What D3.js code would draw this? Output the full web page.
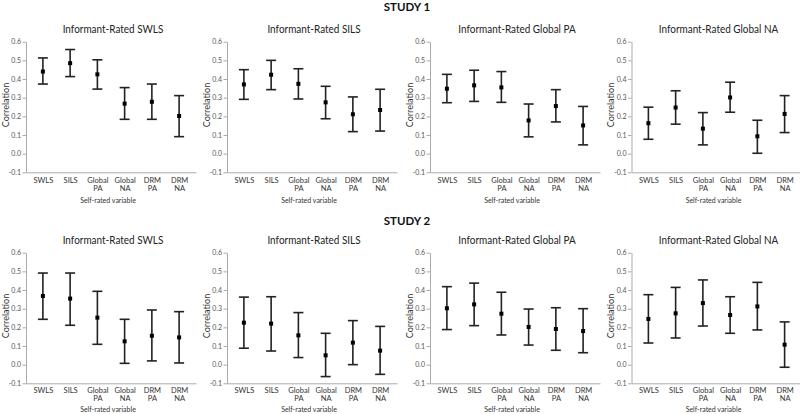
<!DOCTYPE html>
<html><head><meta charset="utf-8">
<script src="https://cdn.jsdelivr.net/npm/d3@7"></script>
<style>body{margin:0;background:#fff}svg{display:block}</style>
</head><body>
<svg id="chart" width="800" height="414"></svg>
<script>
const categories = ["SWLS","SILS","Global PA","Global NA","DRM PA","DRM NA"];
const studies = ["STUDY 1","STUDY 2"];
const panelTitles = ["Informant-Rated SWLS","Informant-Rated SILS","Informant-Rated Global PA","Informant-Rated Global NA"];
const yTicks = [-0.1,0.0,0.1,0.2,0.3,0.4,0.5,0.6];
const yLabel = "Correlation";
const xLabel = "Self-rated variable";

// Study 1: estimate, lower, upper per panel
const s1Est = [
  [0.44,0.485,0.425,0.268,0.278,0.202],
  [0.371,0.423,0.374,0.275,0.211,0.234],
  [0.348,0.366,0.355,0.178,0.255,0.151],
  [0.163,0.247,0.134,0.301,0.093,0.213]
];
const s1Lo = [
  [0.373,0.413,0.346,0.184,0.184,0.091],
  [0.291,0.343,0.293,0.187,0.118,0.121],
  [0.273,0.28,0.275,0.09,0.17,0.047],
  [0.077,0.158,0.047,0.222,0.002,0.113]
];
const s1Hi = [
  [0.513,0.558,0.503,0.354,0.373,0.311],
  [0.45,0.5,0.455,0.361,0.304,0.345],
  [0.425,0.447,0.44,0.266,0.343,0.253],
  [0.249,0.337,0.22,0.383,0.179,0.311]
];
// Study 2
const s2Est = [
  [0.368,0.354,0.252,0.125,0.155,0.146],
  [0.225,0.22,0.157,0.05,0.118,0.075],
  [0.302,0.323,0.273,0.202,0.191,0.18],
  [0.245,0.275,0.33,0.266,0.312,0.107]
];
const s2Lo = [
  [0.243,0.211,0.109,0.007,0.02,0.009],
  [0.088,0.073,0.038,-0.064,0.0,-0.052],
  [0.188,0.209,0.159,0.105,0.077,0.064],
  [0.116,0.143,0.207,0.168,0.186,-0.014]
];
const s2Hi = [
  [0.491,0.491,0.393,0.243,0.293,0.284],
  [0.362,0.364,0.279,0.168,0.236,0.205],
  [0.418,0.437,0.388,0.298,0.305,0.3],
  [0.375,0.414,0.454,0.364,0.441,0.229]
];

const studyData = [
  {est:s1Est, lo:s1Lo, hi:s1Hi},
  {est:s2Est, lo:s2Lo, hi:s2Hi}
];

const svg = d3.select("#chart");
const FONT = "Lato, 'Open Sans', sans-serif";
const colX = [26, 227, 430, 631.5];
const rowTop = [41.7, 252.7];
const xLabOff = [31, 28.5];
const tickLine2 = [19.2, 18.2];
const tickLine1 = [10.3, 9.4];
const plotH = 130.6;
const plotW = 170;

function squeeze(sel, k){
  sel.each(function(){
    const L = this.getComputedTextLength();
    d3.select(this).attr("textLength", L*k).attr("lengthAdjust","spacingAndGlyphs");
  });
}

const y0 = d3.scaleLinear().domain([-0.1,0.6]).range([plotH,0]);
const x0 = d3.scalePoint().domain(categories).range([0,plotW]).padding(0.62);

// Study headings
const studyY = [10.5, 225];
studies.forEach((s,i)=>{
  svg.append("text").attr("x",407).attr("y",studyY[i])
    .attr("text-anchor","middle").attr("font-family",FONT)
    .attr("font-weight","bold").attr("font-size",11.5).attr("fill","#111").text(s);
});

studyData.forEach((sd,r)=>{
  panelTitles.forEach((title,c)=>{
    const g = svg.append("g").attr("transform",`translate(${colX[c]},${rowTop[r]})`);
    // title
    g.append("text").attr("x",87).attr("y",-8.7).attr("text-anchor","middle")
      .attr("font-family",FONT).attr("font-size",11.3).attr("fill","#222").text(title)
      .call(squeeze, 0.88);
    // y axis
    const ya = g.append("g").call(d3.axisLeft(y0).tickValues(yTicks).tickFormat(d=>d.toFixed(1)).tickSize(3.5).tickSizeOuter(0));
    ya.select(".domain").attr("stroke","#aaa");
    ya.selectAll(".tick line").attr("stroke","#aaa");
    ya.selectAll(".tick text").attr("font-family",FONT).attr("font-size",7).attr("fill","#555").attr("x",-5);
    // x axis
    const xa = g.append("g").attr("transform",`translate(0,${plotH})`)
      .call(d3.axisBottom(x0).tickSize(0).tickSizeOuter(0));
    xa.select(".domain").attr("stroke","#aaa");
    xa.selectAll(".tick text").each(function(d){
      const t = d3.select(this);
      t.text(null).attr("font-family",FONT).attr("font-size",7.5).attr("fill","#333")
        .attr("y",0).attr("dy",null);
      d.split(" ").forEach((w,k)=>{
        t.append("tspan").attr("x",0).attr("y",k===0?tickLine1[r]:tickLine2[r]).text(w);
      });
    });
    // axis titles
    g.append("text").attr("transform",`translate(-17.5,${plotH/2 - 2}) rotate(-90)`)
      .attr("text-anchor","middle").attr("font-family",FONT).attr("font-size",9.8).attr("fill","#333").text(yLabel)
      .call(squeeze, 0.92);
    g.append("text").attr("x",plotW/2 - 3).attr("y",plotH+xLabOff[r]).attr("text-anchor","middle")
      .attr("font-family",FONT).attr("font-size",7).attr("fill","#333").text(xLabel);
    // error bars
    const rows = categories.map((cat,i)=>({cat, est:sd.est[c][i], lo:sd.lo[c][i], hi:sd.hi[c][i]}));
    const eb = g.append("g").attr("stroke","#222").attr("stroke-width",1.6);
    eb.selectAll(".v").data(rows).join("line")
      .attr("x1",d=>x0(d.cat)).attr("x2",d=>x0(d.cat))
      .attr("y1",d=>y0(d.lo)).attr("y2",d=>y0(d.hi));
    eb.selectAll(".ct").data(rows).join("line")
      .attr("x1",d=>x0(d.cat)-5).attr("x2",d=>x0(d.cat)+5)
      .attr("y1",d=>y0(d.hi)).attr("y2",d=>y0(d.hi));
    eb.selectAll(".cb").data(rows).join("line")
      .attr("x1",d=>x0(d.cat)-5).attr("x2",d=>x0(d.cat)+5)
      .attr("y1",d=>y0(d.lo)).attr("y2",d=>y0(d.lo));
    g.append("g").selectAll("rect").data(rows).join("rect")
      .attr("x",d=>x0(d.cat)-2).attr("y",d=>y0(d.est)-2)
      .attr("width",4).attr("height",4).attr("fill","#000");
  });
});
</script>
</body></html>
